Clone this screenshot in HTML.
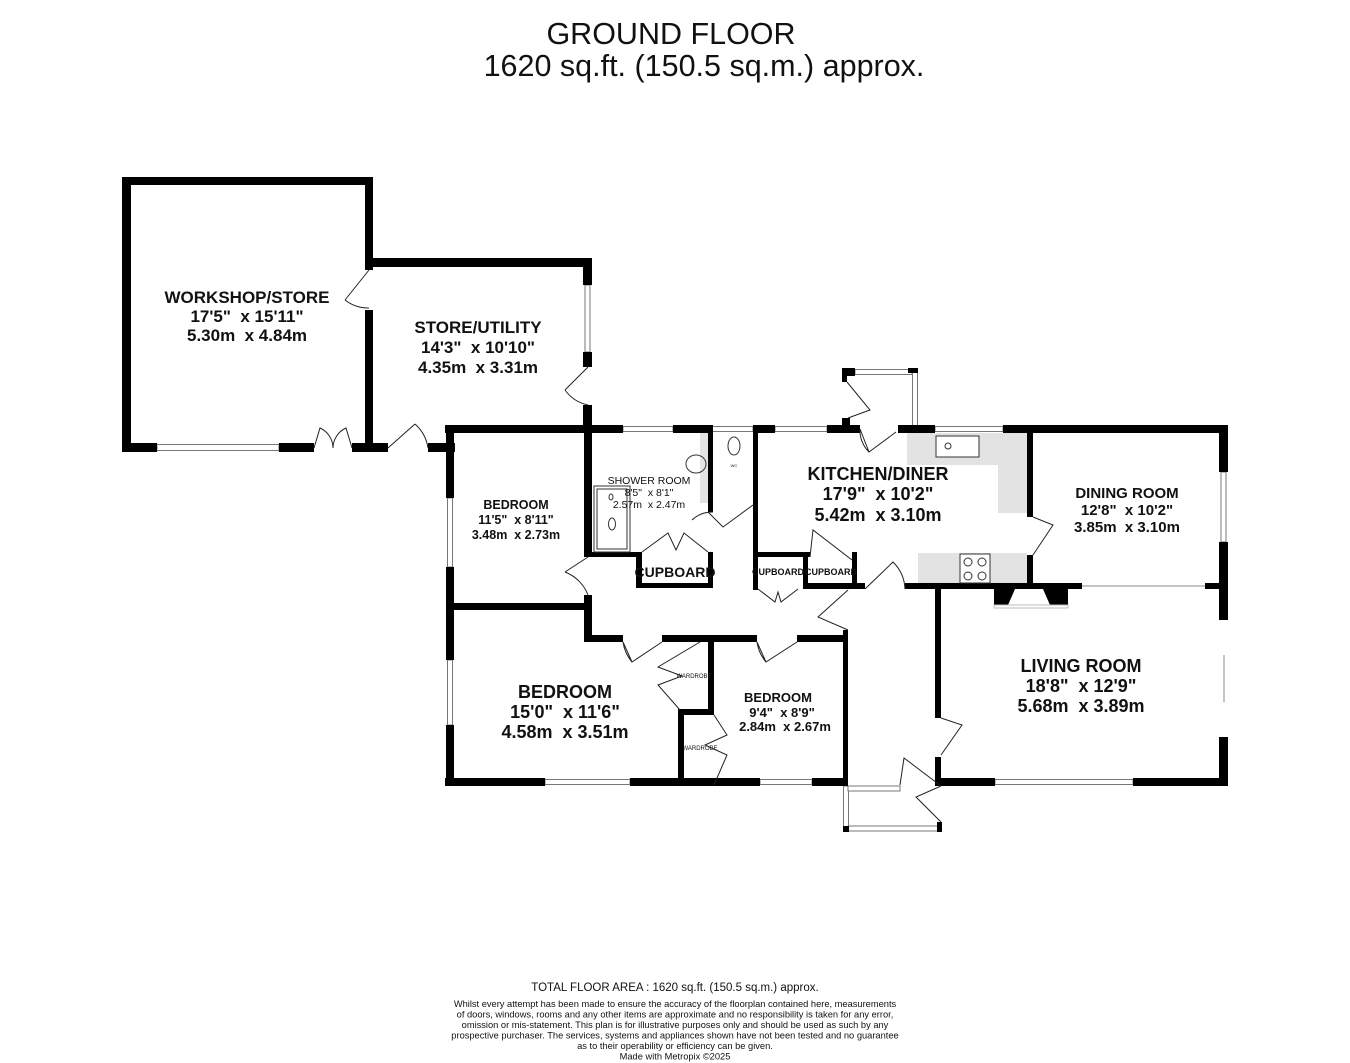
<!DOCTYPE html>
<html><head><meta charset="utf-8"><style>
html,body{margin:0;padding:0;background:#fff;}
svg{display:block;}
text{font-family:"Liberation Sans",Arial,sans-serif;fill:#111;white-space:pre;}
.b{font-weight:bold;}
</style></head><body>
<svg width="1350" height="1063" viewBox="0 0 1350 1063" xmlns="http://www.w3.org/2000/svg" xml:space="preserve">
<rect width="1350" height="1063" fill="#fff"/>
<text x="671" y="44" font-size="30.5" text-anchor="middle">GROUND FLOOR</text>
<text x="704" y="76" font-size="30.5" text-anchor="middle">1620 sq.ft. (150.5 sq.m.) approx.</text>

<g fill="#e3e3e3">
<rect x="907" y="433" width="120" height="32"/>
<rect x="998" y="433" width="29" height="80"/>
<rect x="918" y="553" width="109" height="31"/>
<rect x="700" y="433" width="8" height="70"/>
</g>
<g fill="#fff" stroke="#777" stroke-width="1">
<rect x="157" y="444.5" width="122" height="6"/>
<rect x="585" y="285" width="5" height="67"/>
<rect x="623" y="426.5" width="50" height="5"/>
<rect x="710" y="426.5" width="43" height="5"/>
<rect x="775" y="426.5" width="52" height="5"/>
<rect x="935" y="426.5" width="68" height="5"/>
<rect x="447.5" y="498" width="5" height="69"/>
<rect x="447.5" y="660" width="5" height="65"/>
<rect x="545" y="779.5" width="85" height="5"/>
<rect x="760" y="779.5" width="52" height="5"/>
<rect x="995" y="779.5" width="138" height="5"/>
<rect x="1221" y="472" width="5" height="70"/>
<rect x="855" y="369.5" width="57" height="5"/>
<rect x="912.5" y="369" width="5" height="57"/>
<rect x="843.5" y="786" width="5" height="44"/>
<rect x="848" y="826" width="90" height="5"/>
<rect x="848" y="786" width="52" height="5"/>
</g>
<line x1="1082" y1="586" x2="1205" y2="586" stroke="#888" stroke-width="1"/>
<line x1="1224" y1="655" x2="1224" y2="702" stroke="#888" stroke-width="1"/>
<g fill="#000">
<rect x="122" y="177" width="251" height="8"/>
<rect x="122" y="177" width="9" height="275"/>
<rect x="365" y="177" width="8" height="93"/>
<rect x="365" y="310" width="8" height="142"/>
<rect x="122" y="443" width="35" height="9"/>
<rect x="279" y="443" width="35" height="9"/>
<rect x="352" y="443" width="36" height="9"/>
<rect x="428" y="443" width="27" height="9"/>
<rect x="365" y="258" width="227" height="9"/>
<rect x="583" y="258" width="9" height="27"/>
<rect x="583" y="352" width="9" height="15"/>
<rect x="583" y="405" width="9" height="28"/>
<rect x="445" y="425" width="178" height="8"/>
<rect x="673" y="425" width="37" height="8"/>
<rect x="753" y="425" width="22" height="8"/>
<rect x="827" y="425" width="33" height="8"/>
<rect x="898" y="425" width="37" height="8"/>
<rect x="1003" y="425" width="225" height="8"/>
<rect x="446" y="425" width="8" height="73"/>
<rect x="446" y="567" width="8" height="93"/>
<rect x="446" y="725" width="8" height="61"/>
<rect x="446" y="603" width="144" height="7"/>
<rect x="584" y="425" width="8" height="132"/>
<rect x="584" y="595" width="8" height="47"/>
<rect x="584" y="552" width="58" height="5"/>
<rect x="636" y="552" width="6" height="36"/>
<rect x="636" y="583" width="77" height="5"/>
<rect x="708" y="552" width="5" height="36"/>
<rect x="708" y="425" width="5" height="87"/>
<rect x="753" y="425" width="5" height="165"/>
<rect x="753" y="552" width="57" height="5"/>
<rect x="803" y="552" width="5" height="36"/>
<rect x="852" y="552" width="5" height="36"/>
<rect x="803" y="583" width="62" height="6"/>
<rect x="905" y="583" width="177" height="6"/>
<rect x="1205" y="583" width="23" height="6"/>
<rect x="1027" y="425" width="6" height="92"/>
<rect x="1027" y="555" width="6" height="34"/>
<rect x="1219" y="425" width="9" height="47"/>
<rect x="1219" y="542" width="9" height="78"/>
<rect x="1219" y="737" width="9" height="49"/>
<rect x="935" y="583" width="6" height="135"/>
<rect x="935" y="757" width="6" height="29"/>
<rect x="935" y="778" width="60" height="8"/>
<rect x="1133" y="778" width="95" height="8"/>
<rect x="584" y="635" width="39" height="7"/>
<rect x="662" y="635" width="95" height="7"/>
<rect x="797" y="635" width="51" height="7"/>
<rect x="843" y="630" width="5" height="156"/>
<rect x="445" y="778" width="100" height="8"/>
<rect x="630" y="778" width="130" height="8"/>
<rect x="812" y="778" width="36" height="8"/>
<rect x="708" y="635" width="6" height="80"/>
<rect x="678" y="709" width="36" height="6"/>
<rect x="678" y="709" width="6" height="77"/>
<rect x="842" y="368" width="13" height="8"/>
<rect x="842" y="368" width="5" height="14"/>
<rect x="842" y="418" width="8" height="15"/>
<rect x="908" y="368" width="10" height="5"/>
<rect x="843" y="826" width="6" height="6"/>
<rect x="937" y="822" width="5" height="10"/>
<polygon points="994,589 1015,589 1008,605 994,605"/>
<polygon points="1068,589 1043,589 1050,605 1068,605"/>
</g>
<rect x="994" y="605" width="74" height="3" fill="none" stroke="#bbb" stroke-width="1"/>
<g fill="none" stroke="#222" stroke-width="1">
<path d="M369 270 L345 300 M345 300 A38 38 0 0 0 369 308"/>
<path d="M314 448 L320 428 A22 22 0 0 1 333 448 M352 448 L346 428 A22 22 0 0 0 333 448"/>
<path d="M388 448 L415 424 M415 424 A40 40 0 0 1 428 448"/>
<path d="M588 367 L565 390 M565 390 A38 38 0 0 0 588 405"/>
<path d="M588 557 L565 572 M565 572 A40 40 0 0 1 588 595"/>
<path d="M623 642 L632 662 L662 642 M623 642 A40 40 0 0 0 632 662"/>
<path d="M757 642 L766 662 L797 642 M757 642 A40 40 0 0 0 766 662"/>
<path d="M708 512 L723 527 L753 505 M692 520 A30 30 0 0 1 713 512"/>
<path d="M642 552 L668 533 L676 550 L684 533 L708 552"/>
<path d="M700 642 L658 667 L682 676 L658 685 L680 710"/>
<path d="M714 715 L727 735 L705 745 L727 755 L714 785"/>
<path d="M758 589 L775 602 L778 592 L781 602 L798 589"/>
<path d="M810 557 L813 530 L852 560"/>
<path d="M865 589 L893 562 A40 40 0 0 1 905 589"/>
<path d="M848 630 L818 617 L848 590"/>
<path d="M1033 517 L1053 525 L1033 555"/>
<path d="M941 718 L962 725 L941 755"/>
<path d="M860 429 L869 452 L896 432 M860 429 A30 30 0 0 0 869 452"/>
<path d="M847 382 L870 410 L848 418"/>
<path d="M941 786 L904 758 L900 785"/>
<path d="M941 786 L916 797 L941 822"/>
</g>
<g fill="none" stroke="#333" stroke-width="1">
<rect x="594" y="486" width="36" height="66"/>
<rect x="597" y="489" width="30" height="60"/>
<ellipse cx="612" cy="524" rx="3.5" ry="6"/>
<ellipse cx="611" cy="497" rx="2" ry="3"/>
<ellipse cx="696" cy="464" rx="10" ry="9"/>
<ellipse cx="734" cy="446" rx="6" ry="9"/>
<rect x="936" y="436" width="43" height="21" fill="#fff"/>
<rect x="960" y="554" width="30" height="29" fill="#fff"/>
<circle cx="968" cy="562" r="4"/><circle cx="982" cy="562" r="4"/>
<circle cx="968" cy="576" r="4"/><circle cx="982" cy="576" r="4"/>
<circle cx="948" cy="446" r="3"/>
</g>
<text x="734" y="467" font-size="4" text-anchor="middle">WC</text>
<g text-anchor="middle">
<text x="247" y="303" font-size="17" class="b">WORKSHOP/STORE</text>
<text x="247" y="322" font-size="17" class="b">17'5"  x 15'11"</text>
<text x="247" y="341" font-size="17" class="b">5.30m  x 4.84m</text>
<text x="478" y="333" font-size="17" class="b">STORE/UTILITY</text>
<text x="478" y="353" font-size="17" class="b">14'3"  x 10'10"</text>
<text x="478" y="373" font-size="17" class="b">4.35m  x 3.31m</text>
<text x="516" y="509" font-size="12.5" class="b">BEDROOM</text>
<text x="516" y="524" font-size="12.5" class="b">11'5"  x 8'11"</text>
<text x="516" y="539" font-size="12.5" class="b">3.48m  x 2.73m</text>
<text x="649" y="484" font-size="10.5">SHOWER ROOM</text>
<text x="649" y="496" font-size="10.5">8'5"  x 8'1"</text>
<text x="649" y="508" font-size="10.5">2.57m  x 2.47m</text>
<text x="878" y="480" font-size="18" class="b">KITCHEN/DINER</text>
<text x="878" y="500" font-size="18" class="b">17'9"  x 10'2"</text>
<text x="878" y="521" font-size="18" class="b">5.42m  x 3.10m</text>
<text x="1127" y="498" font-size="15" class="b">DINING ROOM</text>
<text x="1127" y="515" font-size="15" class="b">12'8"  x 10'2"</text>
<text x="1127" y="532" font-size="15" class="b">3.85m  x 3.10m</text>
<text x="1081" y="672" font-size="18" class="b">LIVING ROOM</text>
<text x="1081" y="692" font-size="18" class="b">18'8"  x 12'9"</text>
<text x="1081" y="712" font-size="18" class="b">5.68m  x 3.89m</text>
<text x="565" y="698" font-size="18" class="b">BEDROOM</text>
<text x="565" y="718" font-size="18" class="b">15'0"  x 11'6"</text>
<text x="565" y="738" font-size="18" class="b">4.58m  x 3.51m</text>
<text x="778" y="702" font-size="13" class="b">BEDROOM</text>
<text x="782" y="717" font-size="13" class="b">9'4"  x 8'9"</text>
<text x="785" y="731" font-size="13" class="b">2.84m  x 2.67m</text>
<text x="675" y="577" font-size="14" class="b">CUPBOARD</text>
<text x="778" y="575" font-size="9" class="b">CUPBOARD</text>
<text x="831" y="575" font-size="9" class="b">CUPBOARD</text>
<text x="694" y="678" font-size="6">WARDROBE</text>
<text x="700" y="750" font-size="6">WARDROBE</text>
</g>
<g text-anchor="middle">
<text x="675" y="991" font-size="11.5">TOTAL FLOOR AREA : 1620 sq.ft. (150.5 sq.m.) approx.</text>
<text x="675" y="1007" font-size="9.3">Whilst every attempt has been made to ensure the accuracy of the floorplan contained here, measurements</text>
<text x="675" y="1017.5" font-size="9.3">of doors, windows, rooms and any other items are approximate and no responsibility is taken for any error,</text>
<text x="675" y="1028" font-size="9.3">omission or mis-statement. This plan is for illustrative purposes only and should be used as such by any</text>
<text x="675" y="1038.5" font-size="9.3">prospective purchaser. The services, systems and appliances shown have not been tested and no guarantee</text>
<text x="675" y="1049" font-size="9.3">as to their operability or efficiency can be given.</text>
<text x="675" y="1059.5" font-size="9.3">Made with Metropix ©2025</text>
</g>
</svg>
</body></html>
